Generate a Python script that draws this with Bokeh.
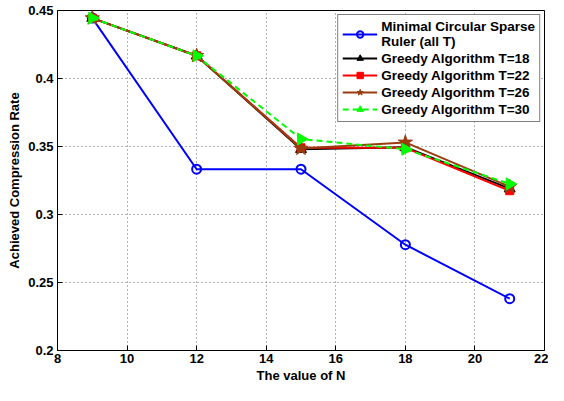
from bokeh.plotting import figure
from bokeh.models import Range1d, FixedTicker, Legend, LegendItem
from bokeh.core.properties import value
from bokeh.embed import file_html
from bokeh.resources import INLINE

N = [9, 12, 15, 18, 21]
ruler = [0.4444, 0.3333, 0.3333, 0.2778, 0.2381]
greedy_t18 = [0.4444, 0.4167, 0.3480, 0.3495, 0.3190]
greedy_t22 = [0.4444, 0.4167, 0.3490, 0.3490, 0.3175]
greedy_t26 = [0.4444, 0.4167, 0.3485, 0.3530, 0.3205]
greedy_t30 = [0.4444, 0.4167, 0.3555, 0.3480, 0.3225]

x_ticks = [8, 10, 12, 14, 16, 18, 20, 22]
x_tick_labels = ["8", "10", "12", "14", "16", "18", "20", "22"]
y_ticks = [0.2, 0.25, 0.3, 0.35, 0.4, 0.45]
y_tick_labels = ["0.2", "0.25", "0.3", "0.35", "0.4", "0.45"]

FONT = "Liberation Sans"

p = figure(width=548, height=385, output_backend="svg", toolbar_location=None,
           x_range=Range1d(8, 22), y_range=Range1d(0.2, 0.45),
           min_border_left=57, min_border_right=4, min_border_top=10, min_border_bottom=30)
p.background_fill_color = "white"
p.border_fill_color = "white"
p.outline_line_color = "black"
p.outline_line_width = 1

for ax in (p.xaxis[0], p.yaxis[0]):
    ax.major_label_text_font = FONT
    ax.major_label_text_font_style = "bold"
    ax.major_label_text_font_size = "13px"
    ax.major_label_text_color = "black"
    ax.axis_label_text_font = FONT
    ax.axis_label_text_font_style = "bold"
    ax.axis_label_text_font_size = "13px"
    ax.axis_label_text_color = "black"
    ax.major_tick_in = 5
    ax.major_tick_out = 0
    ax.minor_tick_in = 0
    ax.minor_tick_out = 0
    ax.axis_line_color = "black"
    ax.major_tick_line_color = "black"

p.xaxis[0].ticker = FixedTicker(ticks=x_ticks)
p.xaxis[0].major_label_overrides = dict(zip(x_ticks, x_tick_labels))
p.yaxis[0].ticker = FixedTicker(ticks=y_ticks)
p.yaxis[0].major_label_overrides = dict(zip(y_ticks, y_tick_labels))
p.xaxis[0].axis_label = "The value of N"
p.yaxis[0].axis_label = "Achieved Compression Rate"
p.xaxis[0].major_label_standoff = 3
p.yaxis[0].major_label_standoff = 4
p.xaxis[0].axis_label_standoff = 2
p.yaxis[0].axis_label_standoff = 3

p.xgrid.ticker = FixedTicker(ticks=x_ticks)
p.ygrid.ticker = FixedTicker(ticks=y_ticks)
for g in (p.xgrid[0], p.ygrid[0]):
    g.grid_line_color = "#666666"
    g.grid_line_dash = "1 3"
    g.grid_line_width = 1

r1l = p.line(N, ruler, line_color="#0000ff", line_width=2)
r1m = p.scatter(N, ruler, marker="circle", size=9, line_color="#0000ff", line_width=2,
                fill_color=None)
r2l = p.line(N, greedy_t18, line_color="black", line_width=2)
r2m = p.scatter(N, greedy_t18, marker="triangle", size=11, line_color="black", fill_color="black")
r3l = p.line(N, greedy_t22, line_color="#ff0000", line_width=2)
r3m = p.scatter(N, greedy_t22, marker="square", size=8, line_color="#ff0000", fill_color="#ff0000")
BROWN = "#993d0f"
r4l = p.line(N, greedy_t26, line_color=BROWN, line_width=2)
r4m = p.scatter(N, greedy_t26, marker="star", size=15, line_color=BROWN, fill_color=BROWN)
r5l = p.line(N, greedy_t30, line_color="#00ff00", line_width=2, line_dash="6 4")
r5m = p.scatter(N, greedy_t30, marker="triangle", angle=-1.5708, size=12,
                line_color="#00ff00", fill_color="#00ff00")

legend = Legend(items=[
    LegendItem(label=value("Minimal Circular Sparse\nRuler (all T)"), renderers=[r1l, r1m]),
    LegendItem(label=value("Greedy Algorithm T=18"), renderers=[r2l, r2m]),
    LegendItem(label=value("Greedy Algorithm T=22"), renderers=[r3l, r3m]),
    LegendItem(label=value("Greedy Algorithm T=26"), renderers=[r4l, r4m]),
    LegendItem(label=value("Greedy Algorithm T=30"), renderers=[r5l, r5m]),
], location="top_right")
legend.label_text_font = FONT
legend.label_text_font_style = "bold"
legend.label_text_font_size = "13.5px"
legend.label_text_line_height = 1.15
legend.label_text_color = "black"
legend.label_height = 16
legend.glyph_height = 16
legend.glyph_width = 35
legend.label_standoff = 4
legend.spacing = 1
legend.padding = 4
legend.margin = 4
legend.border_line_color = "black"
legend.border_line_width = 1.5
legend.background_fill_color = "white"
legend.background_fill_alpha = 1
p.add_layout(legend, "center")

open("out.html", "w").write(file_html(p, INLINE))
